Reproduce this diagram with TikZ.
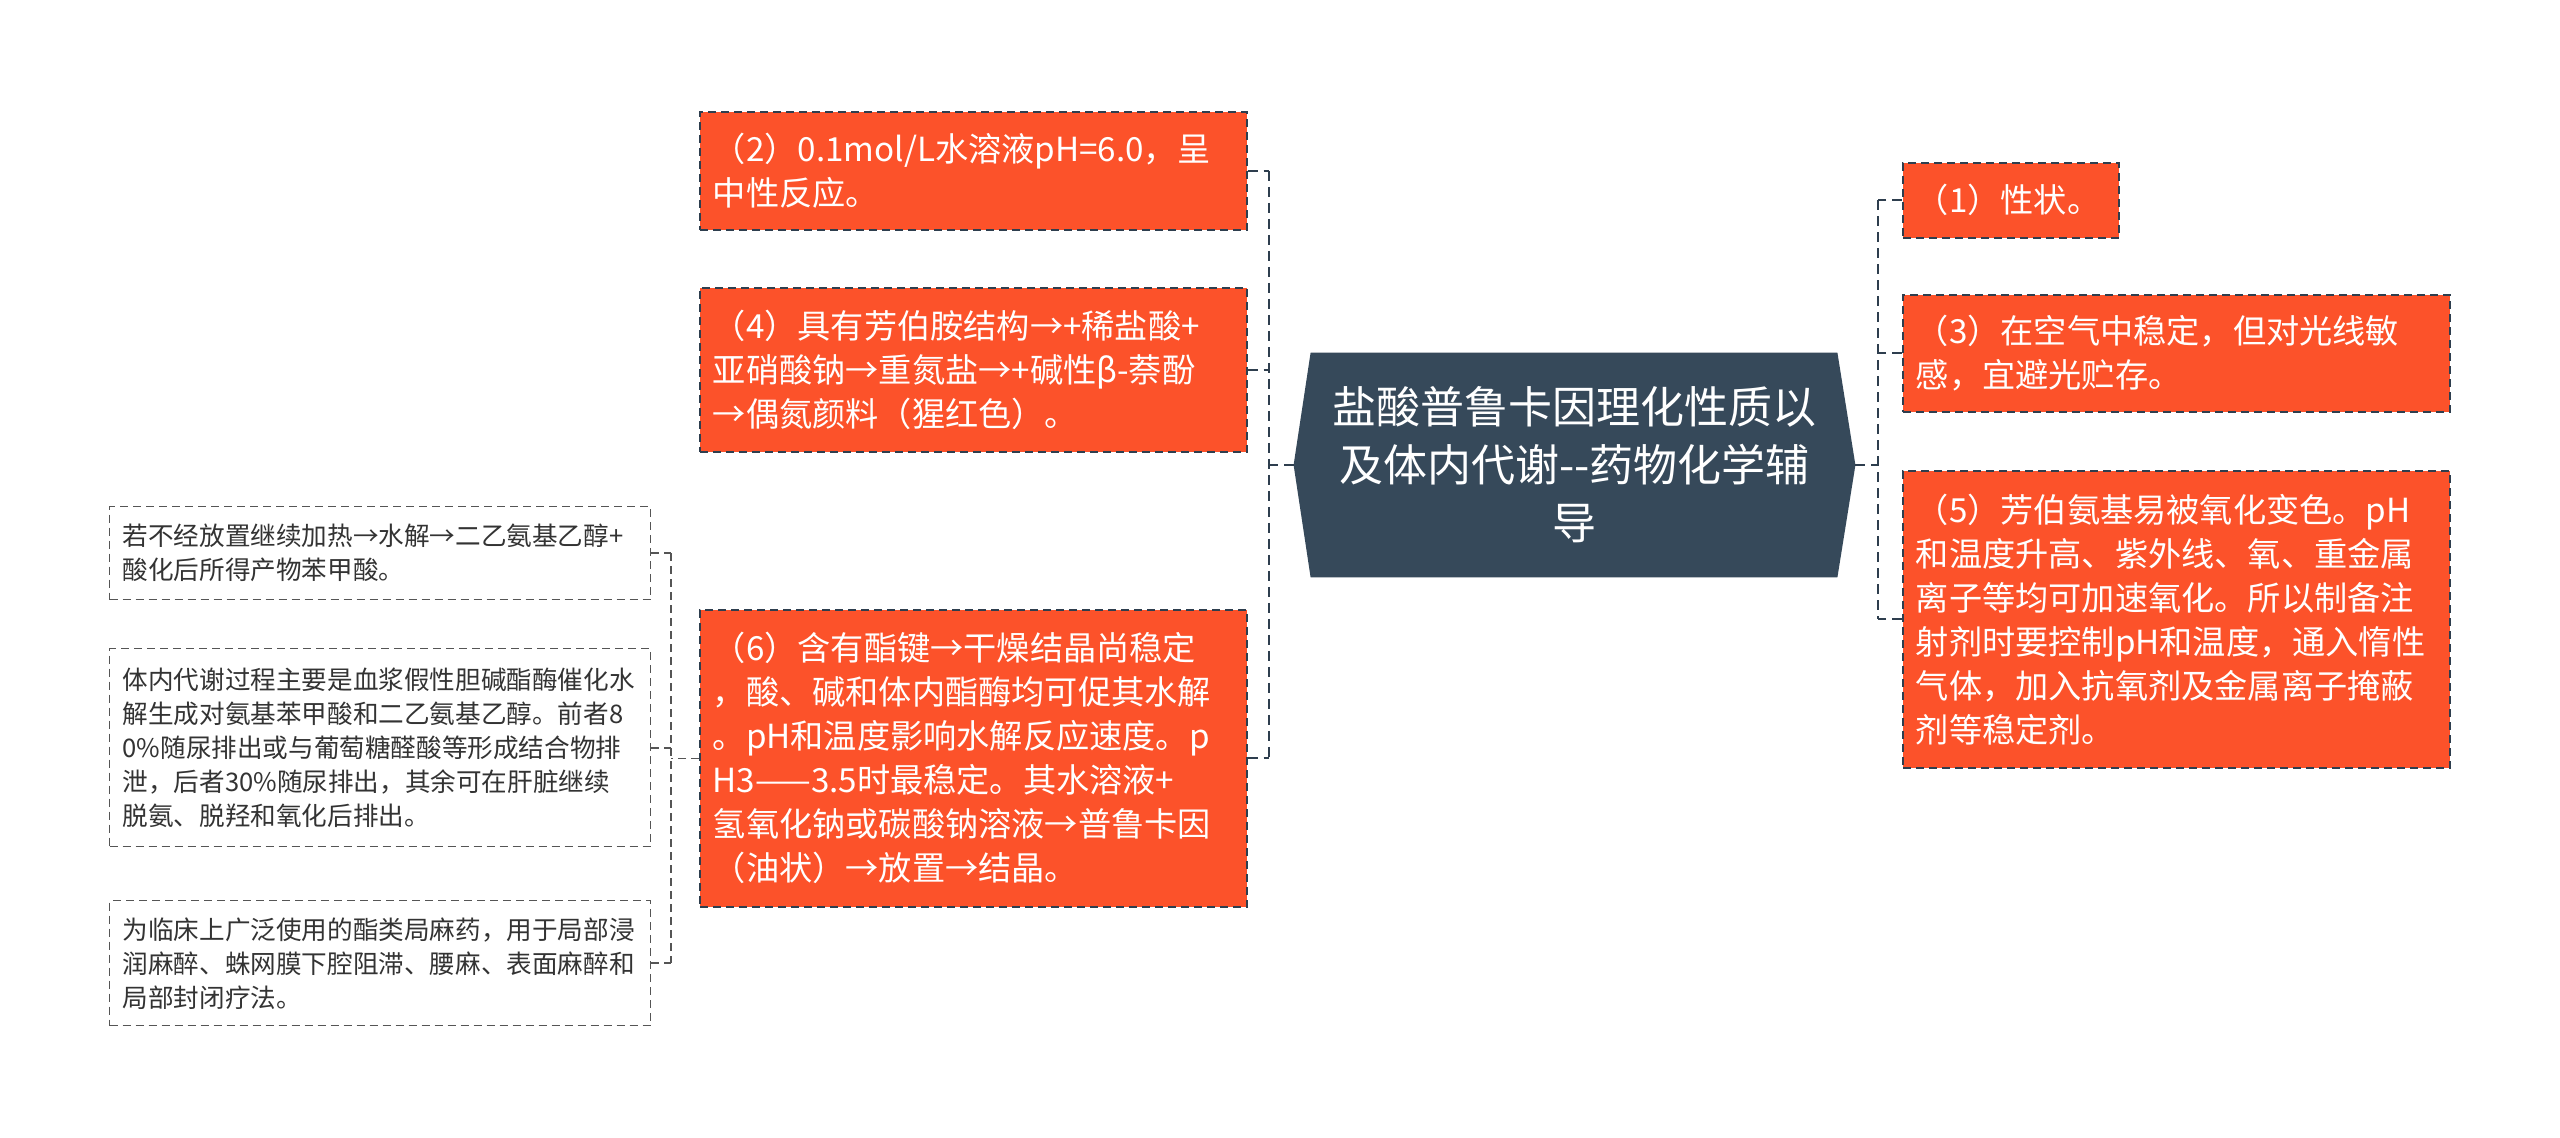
\documentclass[tikz,border=0pt]{standalone}
\usepackage{fontspec}
\setmainfont{Noto Sans CJK SC}
\usetikzlibrary{backgrounds}
\definecolor{orangefill}{HTML}{FC522A}
\definecolor{darkline}{HTML}{2E3E4E}
\definecolor{centerfill}{HTML}{36495A}
\definecolor{graytext}{HTML}{333333}
\definecolor{grayline}{HTML}{555555}
\begin{document}
\begin{tikzpicture}[x=0.5pt,y=-0.5pt,
  obox/.style={draw=darkline, dash pattern=on 4pt off 2.5pt, line width=0.8pt,
    fill=orangefill, text=white, font=\fontsize{16.6}{22}\selectfont,
    align=left, inner xsep=6.5pt, inner ysep=0pt, anchor=north west},
  sbox/.style={draw=grayline, dash pattern=on 4pt off 2.5pt, line width=0.7pt,
    fill=white, text=graytext, font=\fontsize{12.8}{17}\selectfont,
    align=left, inner xsep=6.5pt, inner ysep=0pt, anchor=north west,
    text width=257.5pt},
  conn/.style={draw=darkline, line width=1pt, dash pattern=on 5pt off 3pt},
  sconn/.style={draw=grayline, line width=0.8pt, dash pattern=on 4pt off 2.5pt}
]
\useasboundingbox (0,0) rectangle (2560,1137);

% center node
\node[text=white, font=\fontsize{22}{29}\selectfont, align=center,
  text width=250pt, minimum width=280.5pt, minimum height=112pt, inner sep=0pt]
  (c) at (1574.5,465) {盐酸普鲁卡因理化性质以\\及体内代谢-{}-药物化学辅\\导};
\begin{scope}[on background layer]
\fill[white] (0,0) rectangle (2560,1137);
\fill[centerfill] (c.west) -- ([xshift=8.5pt]c.north west) -- ([xshift=-9pt]c.north east)
  -- (c.east) -- ([xshift=-9pt]c.south east) -- ([xshift=8.5pt]c.south west) -- cycle;
\end{scope}

% left orange boxes
\node[obox, text width=260.5pt, minimum height=59pt] (b2) at (699,111)
  {（2）0.1mol/L水溶液pH=6.0，呈\\中性反应。};
\node[obox, text width=260.5pt, minimum height=82pt] (b4) at (699,287)
  {（4）具有芳伯胺结构→+稀盐酸+\\亚硝酸钠→重氮盐→+碱性β-萘酚\\→偶氮颜料（猩红色）。};
\node[obox, text width=260.5pt, minimum height=148.5pt] (b6) at (699,609)
  {（6）含有酯键→干燥结晶尚稳定\\，酸、碱和体内酯酶均可促其水解\\。pH和温度影响水解反应速度。p\\H3——3.5时最稳定。其水溶液+\\氢氧化钠或碳酸钠溶液→普鲁卡因\\（油状）→放置→结晶。};

% right orange boxes
\node[obox, text width=95pt, minimum height=37.5pt] (b1) at (1902,162)
  {（1）性状。};
\node[obox, text width=260.5pt, minimum height=58.5pt] (b3) at (1902,294)
  {（3）在空气中稳定，但对光线敏\\感，宜避光贮存。};
\node[obox, text width=260.5pt, minimum height=148.5pt] (b5) at (1902,470)
  {（5）芳伯氨基易被氧化变色。pH\\和温度升高、紫外线、氧、重金属\\离子等均可加速氧化。所以制备注\\射剂时要控制pH和温度，通入惰性\\气体，加入抗氧剂及金属离子掩蔽\\剂等稳定剂。};

% small left boxes
\node[sbox, minimum height=46.5pt] (sa) at (109,506)
  {若不经放置继续加热→水解→二乙氨基乙醇+\\酸化后所得产物苯甲酸。};
\node[sbox, minimum height=99pt] (sb) at (109,648)
  {体内代谢过程主要是血浆假性胆碱酯酶催化水\\解生成对氨基苯甲酸和二乙氨基乙醇。前者8\\0\%随尿排出或与葡萄糖醛酸等形成结合物排\\泄，后者30\%随尿排出，其余可在肝脏继续\\脱氨、脱羟和氧化后排出。};
\node[sbox, minimum height=62.5pt] (sc) at (109,900)
  {为临床上广泛使用的酯类局麻药，用于局部浸\\润麻醉、蛛网膜下腔阻滞、腰麻、表面麻醉和\\局部封闭疗法。};

% connectors left
\draw[conn] (c.west) -- ++(-25,0) coordinate (lj);
\draw[conn] (b2.east -| lj) -- (b6.east -| lj);
\draw[conn] (b2.east) -- (b2.east -| lj);
\draw[conn] (b4.east) -- (b4.east -| lj);
\draw[conn] (b6.east) -- (b6.east -| lj);

% connectors right
\draw[conn] (c.east) -- ++(23,0) coordinate (rj);
\draw[conn] (b1.west -| rj) -- (b5.west -| rj);
\draw[conn] (b1.west) -- (b1.west -| rj);
\draw[conn] (b3.west) -- (b3.west -| rj);
\draw[conn] (b5.west) -- (b5.west -| rj);

% small connectors
\draw[sconn] (b6.west) -- ++(-28,0) coordinate (sj);
\draw[sconn] (sa.east -| sj) -- (sc.east -| sj);
\draw[sconn] (sa.east) -- (sa.east -| sj);
\draw[sconn] (sb.east) -- (sb.east -| sj);
\draw[sconn] (sc.east) -- (sc.east -| sj);
\end{tikzpicture}
\end{document}
